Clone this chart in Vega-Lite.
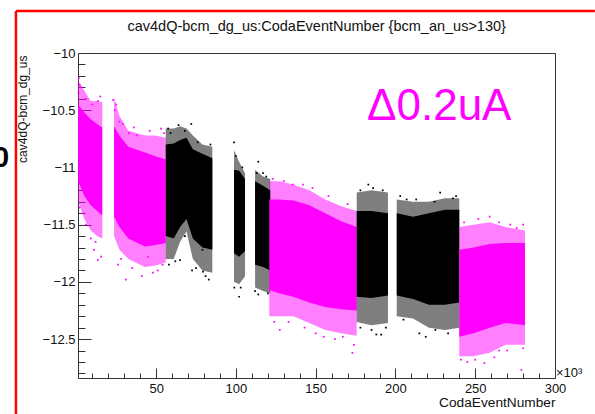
{
  "$schema": "https://vega.github.io/schema/vega-lite/v6.json",
  "width": 477,
  "height": 325,
  "autosize": {"type": "none"},
  "padding": {"left": 78, "top": 53, "right": 40, "bottom": 36},
  "background": "white",
  "config": {
    "font": "Liberation Sans",
    "view": {"stroke": "#333333", "strokeWidth": 1},
    "axis": {"grid": false, "domain": false, "tickColor": "#333333", "tickWidth": 1, "labelColor": "#111111", "labelFont": "Liberation Sans", "labelFontSize": 13, "titleFont": "Liberation Sans", "titleFontWeight": "normal", "titleColor": "#111111", "labelFlush": false, "labelOverlap": false}
  },
  "datasets": {
    "bands": [
      {"seg": 1, "c": "m", "x": 1.1, "hi": -10.24, "hi2": -10.45, "lo2": -11.12, "lo": -11.3},
      {"seg": 1, "c": "m", "x": 5, "hi": -10.33, "hi2": -10.52, "lo2": -11.25, "lo": -11.45},
      {"seg": 1, "c": "m", "x": 9, "hi": -10.42, "hi2": -10.58, "lo2": -11.33, "lo": -11.55},
      {"seg": 1, "c": "m", "x": 13, "hi": -10.42, "hi2": -10.62, "lo2": -11.38, "lo": -11.6},
      {"seg": 1, "c": "m", "x": 16.2, "hi": -10.43, "hi2": -10.65, "lo2": -11.42, "lo": -11.62},
      {"seg": 2, "c": "m", "x": 23.6, "hi": -10.39, "hi2": -10.64, "lo2": -11.43, "lo": -11.6},
      {"seg": 2, "c": "m", "x": 27, "hi": -10.55, "hi2": -10.72, "lo2": -11.52, "lo": -11.72},
      {"seg": 2, "c": "m", "x": 32.5, "hi": -10.68, "hi2": -10.82, "lo2": -11.62, "lo": -11.8},
      {"seg": 2, "c": "m", "x": 43, "hi": -10.72, "hi2": -10.87, "lo2": -11.69, "lo": -11.87},
      {"seg": 2, "c": "m", "x": 49, "hi": -10.72, "hi2": -10.9, "lo2": -11.68, "lo": -11.86},
      {"seg": 2, "c": "m", "x": 56, "hi": -10.74, "hi2": -10.93, "lo2": -11.66, "lo": -11.83},
      {"seg": 3, "c": "k", "x": 56, "hi": -10.66, "hi2": -10.8, "lo2": -11.6, "lo": -11.8},
      {"seg": 3, "c": "k", "x": 61, "hi": -10.66, "hi2": -10.79, "lo2": -11.62, "lo": -11.8},
      {"seg": 3, "c": "k", "x": 65, "hi": -10.64, "hi2": -10.76, "lo2": -11.52, "lo": -11.65},
      {"seg": 3, "c": "k", "x": 69, "hi": -10.66, "hi2": -10.74, "lo2": -11.45, "lo": -11.56},
      {"seg": 3, "c": "k", "x": 73, "hi": -10.72, "hi2": -10.84, "lo2": -11.62, "lo": -11.8},
      {"seg": 3, "c": "k", "x": 79, "hi": -10.8, "hi2": -10.88, "lo2": -11.7, "lo": -11.9},
      {"seg": 3, "c": "k", "x": 85.2, "hi": -10.82, "hi2": -10.92, "lo2": -11.72, "lo": -11.92},
      {"seg": 4, "c": "k", "x": 98.8, "hi": -10.85, "hi2": -11.02, "lo2": -11.75, "lo": -12.0},
      {"seg": 4, "c": "k", "x": 102, "hi": -10.95, "hi2": -11.03, "lo2": -11.78, "lo": -12.02},
      {"seg": 4, "c": "k", "x": 105.7, "hi": -11.05, "hi2": -11.1, "lo2": -11.73, "lo": -11.95},
      {"seg": 5, "c": "k", "x": 112, "hi": -11.02, "hi2": -11.12, "lo2": -11.85, "lo": -12.05},
      {"seg": 5, "c": "k", "x": 117, "hi": -11.08, "hi2": -11.16, "lo2": -11.87, "lo": -12.08},
      {"seg": 5, "c": "k", "x": 121.5, "hi": -11.1, "hi2": -11.2, "lo2": -11.9, "lo": -12.1},
      {"seg": 6, "c": "m", "x": 120.9, "hi": -11.12, "hi2": -11.28, "lo2": -12.07, "lo": -12.3},
      {"seg": 6, "c": "m", "x": 127, "hi": -11.12, "hi2": -11.28, "lo2": -12.1, "lo": -12.3},
      {"seg": 6, "c": "m", "x": 136, "hi": -11.15, "hi2": -11.29, "lo2": -12.13, "lo": -12.3},
      {"seg": 6, "c": "m", "x": 146, "hi": -11.2, "hi2": -11.33, "lo2": -12.18, "lo": -12.36},
      {"seg": 6, "c": "m", "x": 156, "hi": -11.28, "hi2": -11.4, "lo2": -12.22, "lo": -12.42},
      {"seg": 6, "c": "m", "x": 166, "hi": -11.34, "hi2": -11.47, "lo2": -12.24, "lo": -12.45},
      {"seg": 6, "c": "m", "x": 175.7, "hi": -11.38, "hi2": -11.52, "lo2": -12.25, "lo": -12.47},
      {"seg": 7, "c": "k", "x": 175.7, "hi": -11.22, "hi2": -11.38, "lo2": -12.13, "lo": -12.35},
      {"seg": 7, "c": "k", "x": 185, "hi": -11.2, "hi2": -11.38, "lo2": -12.14, "lo": -12.38},
      {"seg": 7, "c": "k", "x": 195.3, "hi": -11.22, "hi2": -11.4, "lo2": -12.12, "lo": -12.36},
      {"seg": 8, "c": "k", "x": 200.8, "hi": -11.28, "hi2": -11.4, "lo2": -12.12, "lo": -12.3},
      {"seg": 8, "c": "k", "x": 211, "hi": -11.3, "hi2": -11.43, "lo2": -12.15, "lo": -12.32},
      {"seg": 8, "c": "k", "x": 221, "hi": -11.3, "hi2": -11.4, "lo2": -12.2, "lo": -12.4},
      {"seg": 8, "c": "k", "x": 231, "hi": -11.27, "hi2": -11.37, "lo2": -12.2, "lo": -12.42},
      {"seg": 8, "c": "k", "x": 240, "hi": -11.27, "hi2": -11.37, "lo2": -12.18, "lo": -12.4},
      {"seg": 9, "c": "m", "x": 240, "hi": -11.52, "hi2": -11.72, "lo2": -12.48, "lo": -12.65},
      {"seg": 9, "c": "m", "x": 249, "hi": -11.5, "hi2": -11.7, "lo2": -12.45, "lo": -12.65},
      {"seg": 9, "c": "m", "x": 259, "hi": -11.48, "hi2": -11.67, "lo2": -12.4, "lo": -12.62},
      {"seg": 9, "c": "m", "x": 269, "hi": -11.52, "hi2": -11.66, "lo2": -12.36, "lo": -12.55},
      {"seg": 9, "c": "m", "x": 281.2, "hi": -11.55, "hi2": -11.66, "lo2": -12.38, "lo": -12.55}
    ],
    "outliers": [
      {"c": "m", "x": 1.5, "y": -10.22}, {"c": "m", "x": 2, "y": -10.28}, {"c": "m", "x": 1.3, "y": -10.35},
      {"c": "m", "x": 15, "y": -10.38}, {"c": "m", "x": 13.5, "y": -10.42}, {"c": "m", "x": 4, "y": -11.4},
      {"c": "m", "x": 11, "y": -11.72}, {"c": "m", "x": 15.5, "y": -11.78}, {"c": "m", "x": 9, "y": -11.62},
      {"c": "m", "x": 13.5, "y": -11.81}, {"c": "m", "x": 23, "y": -10.41}, {"c": "m", "x": 25, "y": -10.45},
      {"c": "m", "x": 29, "y": -10.62}, {"c": "m", "x": 36, "y": -10.65}, {"c": "m", "x": 46, "y": -10.68},
      {"c": "m", "x": 53, "y": -10.66}, {"c": "m", "x": 31, "y": -11.98}, {"c": "m", "x": 41, "y": -11.95},
      {"c": "m", "x": 51, "y": -11.9}, {"c": "m", "x": 26, "y": -11.85}, {"c": "m", "x": 45, "y": -11.78},
      {"c": "m", "x": 3, "y": -10.3}, {"c": "m", "x": 6, "y": -10.4}, {"c": "m", "x": 10, "y": -10.45},
      {"c": "m", "x": 2, "y": -11.35}, {"c": "m", "x": 6, "y": -11.5}, {"c": "m", "x": 12, "y": -11.65},
      {"c": "m", "x": 24, "y": -10.5}, {"c": "m", "x": 27, "y": -10.6}, {"c": "m", "x": 33, "y": -10.7},
      {"c": "m", "x": 38, "y": -10.72}, {"c": "m", "x": 55, "y": -10.7}, {"c": "m", "x": 28, "y": -11.8},
      {"c": "m", "x": 35, "y": -11.88}, {"c": "m", "x": 48, "y": -11.92}, {"c": "m", "x": 54, "y": -11.85},
      {"c": "k", "x": 57.5, "y": -10.66}, {"c": "k", "x": 64, "y": -10.63}, {"c": "k", "x": 72, "y": -10.62},
      {"c": "k", "x": 65, "y": -11.81}, {"c": "k", "x": 72.5, "y": -11.9}, {"c": "k", "x": 79, "y": -11.72},
      {"c": "k", "x": 79.4, "y": -11.91}, {"c": "k", "x": 83, "y": -11.98}, {"c": "k", "x": 98.8, "y": -10.78},
      {"c": "k", "x": 59, "y": -10.7}, {"c": "k", "x": 68, "y": -10.68}, {"c": "k", "x": 76, "y": -10.78},
      {"c": "k", "x": 84, "y": -10.8}, {"c": "k", "x": 58, "y": -11.85}, {"c": "k", "x": 62, "y": -11.82},
      {"c": "k", "x": 75, "y": -11.88}, {"c": "k", "x": 81, "y": -11.95}, {"c": "k", "x": 68, "y": -11.6},
      {"c": "k", "x": 100, "y": -10.9}, {"c": "k", "x": 104, "y": -11.0}, {"c": "k", "x": 99, "y": -12.05},
      {"c": "k", "x": 103, "y": -12.05}, {"c": "k", "x": 113, "y": -11.05}, {"c": "k", "x": 119, "y": -11.08},
      {"c": "k", "x": 112, "y": -12.08}, {"c": "k", "x": 120, "y": -12.1},
      {"c": "k", "x": 102, "y": -12.13}, {"c": "k", "x": 114, "y": -10.95}, {"c": "k", "x": 114, "y": -12.11},
      {"c": "k", "x": 117, "y": -11.05}, {"c": "m", "x": 142, "y": -11.15}, {"c": "m", "x": 135.5, "y": -11.15},
      {"c": "m", "x": 173, "y": -12.62}, {"c": "m", "x": 167, "y": -12.48}, {"c": "m", "x": 127.5, "y": -12.42},
      {"c": "m", "x": 150, "y": -12.45},
      {"c": "m", "x": 123, "y": -11.1}, {"c": "m", "x": 130, "y": -11.12}, {"c": "m", "x": 148, "y": -11.18},
      {"c": "m", "x": 158, "y": -11.25}, {"c": "m", "x": 170, "y": -11.32}, {"c": "m", "x": 124, "y": -12.35},
      {"c": "m", "x": 133, "y": -12.35}, {"c": "m", "x": 143, "y": -12.4}, {"c": "m", "x": 155, "y": -12.48},
      {"c": "m", "x": 162, "y": -12.5}, {"c": "m", "x": 174, "y": -12.55},
      {"c": "k", "x": 188, "y": -12.46}, {"c": "k", "x": 191, "y": -12.46},
      {"c": "k", "x": 186, "y": -11.18}, {"c": "k", "x": 207, "y": -11.28}, {"c": "k", "x": 236, "y": -11.27},
      {"c": "k", "x": 178, "y": -11.2}, {"c": "k", "x": 183, "y": -11.15}, {"c": "k", "x": 192, "y": -11.2},
      {"c": "k", "x": 178, "y": -12.4}, {"c": "k", "x": 185, "y": -12.42}, {"c": "k", "x": 194, "y": -12.4},
      {"c": "k", "x": 203, "y": -11.25}, {"c": "k", "x": 213, "y": -11.28}, {"c": "k", "x": 228, "y": -11.22},
      {"c": "k", "x": 238, "y": -11.25}, {"c": "k", "x": 205, "y": -12.33}, {"c": "k", "x": 225, "y": -12.42},
      {"c": "k", "x": 233, "y": -12.45},
      {"c": "k", "x": 224.5, "y": -11.3}, {"c": "k", "x": 215, "y": -12.45}, {"c": "k", "x": 219, "y": -12.48},
      {"c": "m", "x": 259, "y": -11.43}, {"c": "m", "x": 276, "y": -11.53}, {"c": "m", "x": 255.7, "y": -12.71},
      {"c": "m", "x": 241, "y": -12.68}, {"c": "m", "x": 279, "y": -12.77}, {"c": "m", "x": 265, "y": -12.6},
      {"c": "m", "x": 243, "y": -11.48}, {"c": "m", "x": 252, "y": -11.45}, {"c": "m", "x": 265, "y": -11.48},
      {"c": "m", "x": 272, "y": -11.5}, {"c": "m", "x": 280, "y": -11.5}, {"c": "m", "x": 245, "y": -12.7},
      {"c": "m", "x": 250, "y": -12.68}, {"c": "m", "x": 262, "y": -12.66}, {"c": "m", "x": 270, "y": -12.6},
      {"c": "m", "x": 280, "y": -12.58}
    ],
    "frame": [{"x": -37.9, "x2": 325, "y": -9.633, "y2": -13.155}]
  },
  "layer": [
    {
      "data": {"name": "bands"},
      "mark": {"type": "area", "opacity": 0.5, "interpolate": "linear"},
      "encoding": {
        "x": {"field": "x", "type": "quantitative",
              "scale": {"domain": [1, 300], "nice": false, "zero": false},
              "axis": {"orient": "bottom", "values": [50, 100, 150, 200, 250, 300], "tickSize": -10, "labelPadding": 14,
                       "title": "CodaEventNumber", "titleFontSize": 13.7, "titleX": 477, "titleY": 28.5, "titleAlign": "right", "titleBaseline": "alphabetic", "titleAngle": 0}},
        "y": {"field": "hi", "type": "quantitative",
              "scale": {"domain": [-12.84, -10], "nice": false, "zero": false},
              "axis": {"orient": "left", "values": [-10, -10.5, -11, -11.5, -12, -12.5], "format": ".1~f", "tickSize": -13, "labelPadding": 16,
                       "title": "cav4dQ-bcm_dg_us", "titleFontSize": 12, "titleX": -55.5, "titleY": 2, "titleAngle": 270, "titleAlign": "right", "titleBaseline": "middle"}},
        "y2": {"field": "lo"},
        "detail": {"field": "seg"},
        "color": {"field": "c", "type": "nominal", "scale": {"domain": ["m", "k"], "range": ["#ff00ff", "#000000"]}, "legend": null}
      }
    },
    {
      "data": {"name": "bands"},
      "mark": {"type": "area", "opacity": 1, "interpolate": "linear"},
      "encoding": {
        "x": {"field": "x", "type": "quantitative",
              "axis": {"orient": "bottom", "values": [10, 20, 30, 40, 60, 70, 80, 90, 110, 120, 130, 140, 160, 170, 180, 190, 210, 220, 230, 240, 260, 270, 280, 290], "tickSize": -5, "labels": false, "title": null}},
        "y": {"field": "hi2", "type": "quantitative",
              "axis": {"orient": "left", "values": [-10.1, -10.2, -10.3, -10.4, -10.6, -10.7, -10.8, -10.9, -11.1, -11.2, -11.3, -11.4, -11.6, -11.7, -11.8, -11.9, -12.1, -12.2, -12.3, -12.4, -12.6, -12.7, -12.8], "tickSize": -7, "labels": false, "title": null}},
        "y2": {"field": "lo2"},
        "detail": {"field": "seg"},
        "color": {"field": "c", "type": "nominal", "legend": null}
      }
    },
    {
      "data": {"name": "outliers"},
      "mark": {"type": "square", "size": 3, "opacity": 1, "filled": true},
      "encoding": {
        "x": {"field": "x", "type": "quantitative", "axis": null},
        "y": {"field": "y", "type": "quantitative", "axis": null},
        "color": {"field": "c", "type": "nominal", "legend": null}
      }
    },
    {
      "data": {"name": "frame"},
      "mark": {"type": "rule", "color": "#ff0000", "strokeWidth": 2.5},
      "encoding": {
        "x": {"field": "x", "type": "quantitative", "axis": null},
        "y": {"field": "y", "type": "quantitative", "axis": null},
        "y2": {"field": "y2"}
      }
    },
    {
      "data": {"name": "frame"},
      "mark": {"type": "rule", "color": "#ff0000", "strokeWidth": 2.5},
      "encoding": {
        "x": {"field": "x", "type": "quantitative", "axis": null},
        "x2": {"field": "x2"},
        "y": {"field": "y", "type": "quantitative", "axis": null}
      }
    },
    {
      "data": {"values": [{"t": "cav4dQ-bcm_dg_us:CodaEventNumber {bcm_an_us>130}", "x": 150.6, "y": -9.812}]},
      "mark": {"type": "text", "fontSize": 14.5, "align": "center", "baseline": "alphabetic", "color": "#111111", "font": "Liberation Sans"},
      "encoding": {
        "x": {"field": "x", "type": "quantitative", "axis": null},
        "y": {"field": "y", "type": "quantitative", "axis": null},
        "text": {"field": "t"}
      }
    },
    {
      "data": {"values": [{"t": "Δ0.2uA", "x": 182.2, "y": -10.585}]},
      "mark": {"type": "text", "fontSize": 44, "align": "left", "baseline": "alphabetic", "color": "#ff00ff", "font": "Liberation Sans"},
      "encoding": {
        "x": {"field": "x", "type": "quantitative", "axis": null},
        "y": {"field": "y", "type": "quantitative", "axis": null},
        "text": {"field": "t"}
      }
    },
    {
      "data": {"values": [{"t": "×10³", "x": 300, "y": -12.83}]},
      "mark": {"type": "text", "fontSize": 13, "align": "left", "baseline": "alphabetic", "dx": 1, "color": "#111111", "font": "Liberation Sans"},
      "encoding": {
        "x": {"field": "x", "type": "quantitative", "axis": null},
        "y": {"field": "y", "type": "quantitative", "axis": null},
        "text": {"field": "t"}
      }
    },
    {
      "data": {"values": [{"t": "0", "x": -47.3, "y": -10.917}]},
      "mark": {"type": "text", "fontSize": 29, "fontWeight": "bold", "align": "center", "baseline": "middle", "color": "#000000", "font": "Liberation Sans"},
      "encoding": {
        "x": {"field": "x", "type": "quantitative", "axis": null},
        "y": {"field": "y", "type": "quantitative", "axis": null},
        "text": {"field": "t"}
      }
    }
  ],
  "resolve": {"axis": {"x": "independent", "y": "independent"}}
}
